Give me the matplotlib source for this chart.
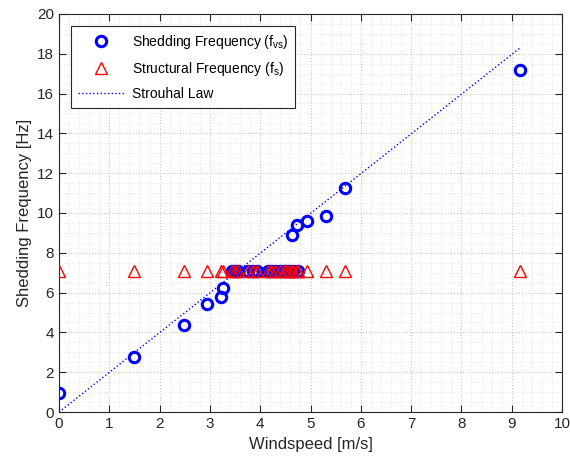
import matplotlib
matplotlib.use("Agg")
import matplotlib.pyplot as plt
from matplotlib.ticker import MultipleLocator

plt.rcParams['font.family'] = ['Liberation Sans', 'DejaVu Sans']
plt.rcParams['mathtext.fontset'] = 'custom'
plt.rcParams['mathtext.rm'] = 'Liberation Sans'
plt.rcParams['mathtext.it'] = 'Liberation Sans'

# windspeed [m/s] of each measurement
windspeed = [0.0, 1.5, 2.49, 2.95, 3.23, 3.27, 3.43, 3.50, 3.56, 3.76, 3.85,
             3.94, 4.16, 4.22, 4.29, 4.39, 4.47, 4.52, 4.58, 4.63, 4.66,
             4.73, 4.76, 4.94, 5.31, 5.69, 9.17]
# shedding frequency [Hz]
f_vs = [0.98, 2.78, 4.37, 5.42, 5.80, 6.22, 7.08, 7.08, 7.08, 7.08, 7.08,
        7.08, 7.08, 7.08, 7.08, 7.08, 7.08, 7.08, 7.08, 8.87, 7.08,
        9.41, 7.08, 9.62, 9.84, 11.23, 17.16]
# structural frequency [Hz]
f_s = [7.1] * len(windspeed)

# strouhal law end points
strouhal_u = [0.0, 9.17]
strouhal_f = [0.0, 18.3]

fig = plt.figure(figsize=(5.7, 4.62), dpi=100)
ax = fig.add_axes([0.1035, 0.108, 0.8825, 0.862])

ax.plot(windspeed, f_vs, 'o', color='blue', mfc='none', ms=7.5, mew=2.2,
        label='Shedding Frequency (f$_{\\mathregular{vs}}$)', zorder=3)
ax.plot(windspeed, f_s, '^', color='red', mfc='none', ms=8, mew=1.0,
        label='Structural Frequency (f$_{\\mathregular{s}}$)', zorder=4)
ax.plot(strouhal_u, strouhal_f, ':', color='blue', lw=1.0,
        label='Strouhal Law', zorder=2)

ax.set_xlim(0, 10)
ax.set_ylim(0, 20)
ax.xaxis.set_major_locator(MultipleLocator(1))
ax.xaxis.set_minor_locator(MultipleLocator(0.2))
ax.yaxis.set_major_locator(MultipleLocator(2))
ax.yaxis.set_minor_locator(MultipleLocator(0.5))
ax.tick_params(which='major', direction='in', length=5, width=0.8,
               top=True, right=True, labelsize=11, colors='#262626')
ax.tick_params(which='minor', length=0, top=True, right=True)
ax.grid(which='major', ls=':', color='#c8c8c8', lw=0.8)
ax.grid(which='minor', ls=':', color='#e0e0e0', lw=0.6)
for s in ax.spines.values():
    s.set_color('#262626')
    s.set_linewidth(0.8)

ax.set_xlabel('Windspeed [m/s]', fontsize=12, color='#262626')
ax.set_ylabel('Shedding Frequency [Hz]', fontsize=12, color='#262626')

leg = ax.legend(loc='upper left', fontsize=10, fancybox=False,
                edgecolor='#262626', framealpha=1, handlelength=3.4,
                handletextpad=0.5, borderaxespad=0.85, labelspacing=0.65,
                borderpad=0.5)
leg.get_frame().set_linewidth(0.8)

fig.savefig('out.png', dpi=100)
